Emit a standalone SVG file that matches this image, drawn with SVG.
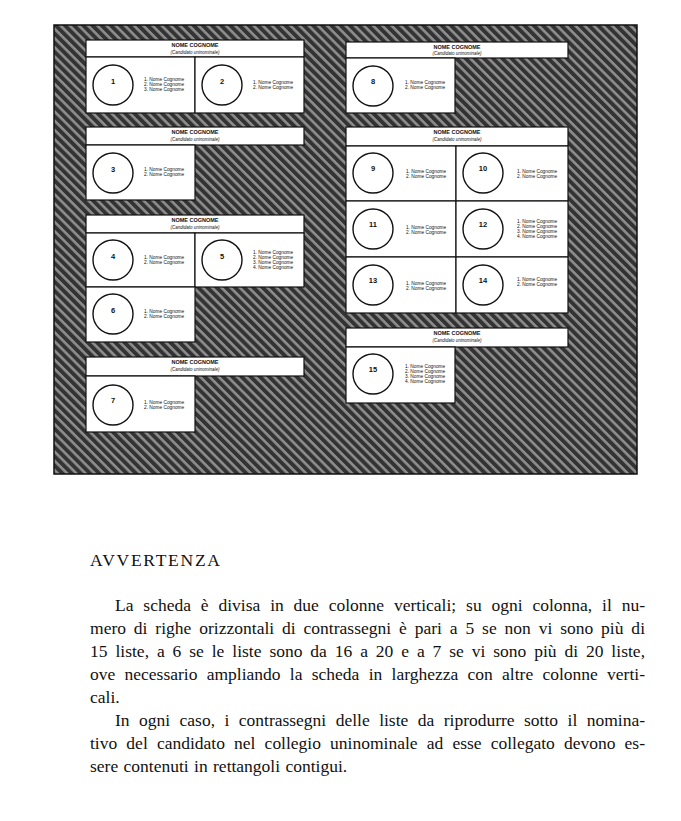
<svg xmlns="http://www.w3.org/2000/svg" width="681" height="821" viewBox="0 0 681 821">
<defs>
<pattern id="hatch" patternUnits="userSpaceOnUse" width="6.5" height="6.5" patternTransform="rotate(45)">
<rect width="6.5" height="6.5" fill="#333333"/>
<rect y="0" width="6.5" height="2.6" fill="#8e8e8e"/>
</pattern>
</defs>
<style>
.box{fill:#ffffff;stroke:#111111;stroke-width:1.2}
.circ{fill:none;stroke:#111111;stroke-width:1.4}
.hd{font-family:"Liberation Sans",Arial,sans-serif;font-size:5.5px;font-weight:bold;text-anchor:middle;fill:#111}
.sub{font-family:"Liberation Sans",Arial,sans-serif;font-size:4.5px;font-style:italic;text-anchor:middle;fill:#111}
.num{font-family:"Liberation Sans",Arial,sans-serif;font-size:7.5px;font-weight:bold;text-anchor:middle;fill:#111}
.nm{font-family:"Liberation Sans",Arial,sans-serif;font-size:4.8px;fill:#111}
.body{font-family:"Liberation Serif","Times New Roman",serif;font-size:17.5px;fill:#111}
</style>
<rect x="54" y="25" width="583" height="449" fill="url(#hatch)" stroke="#111" stroke-width="1.5"/>

<g id="block-1-2">
<rect class="box" x="86" y="40" width="218" height="17"/>
<text class="hd" x="195" y="47">NOME COGNOME</text>
<text class="sub" x="195" y="53.5">(Candidato uninominale)</text>
<rect class="box" x="86" y="57" width="109" height="56"/>
<rect class="box" x="195" y="57" width="109" height="56"/>
<circle class="circ" cx="113" cy="85" r="20"/><text class="num" x="113" y="84">1</text>
<text class="nm" x="144" y="81">1. Nome Cognome</text><text class="nm" x="144" y="86">2. Nome Cognome</text><text class="nm" x="144" y="91">3. Nome Cognome</text>
<circle class="circ" cx="222" cy="85" r="20"/><text class="num" x="222" y="84">2</text>
<text class="nm" x="253" y="84">1. Nome Cognome</text><text class="nm" x="253" y="89">2. Nome Cognome</text>
</g>

<g id="block-3">
<rect class="box" x="86" y="127" width="218" height="18"/>
<text class="hd" x="195" y="134">NOME COGNOME</text>
<text class="sub" x="195" y="140.5">(Candidato uninominale)</text>
<rect class="box" x="86" y="145" width="109" height="55"/>
<circle class="circ" cx="113" cy="173" r="20"/><text class="num" x="113" y="172">3</text>
<text class="nm" x="144" y="171">1. Nome Cognome</text><text class="nm" x="144" y="176">2. Nome Cognome</text>
</g>

<g id="block-4-5-6">
<rect class="box" x="86" y="215" width="218" height="18"/>
<text class="hd" x="195" y="222">NOME COGNOME</text>
<text class="sub" x="195" y="228.5">(Candidato uninominale)</text>
<rect class="box" x="86" y="233" width="109" height="54"/>
<rect class="box" x="195" y="233" width="109" height="54"/>
<rect class="box" x="86" y="287" width="109" height="55"/>
<circle class="circ" cx="113" cy="260" r="20"/><text class="num" x="113" y="259">4</text>
<text class="nm" x="144" y="259">1. Nome Cognome</text><text class="nm" x="144" y="264">2. Nome Cognome</text>
<circle class="circ" cx="222" cy="260" r="20"/><text class="num" x="222" y="259">5</text>
<text class="nm" x="253" y="254">1. Nome Cognome</text><text class="nm" x="253" y="259">2. Nome Cognome</text><text class="nm" x="253" y="264">3. Nome Cognome</text><text class="nm" x="253" y="269">4. Nome Cognome</text>
<circle class="circ" cx="113" cy="314" r="20"/><text class="num" x="113" y="313">6</text>
<text class="nm" x="144" y="313">1. Nome Cognome</text><text class="nm" x="144" y="318">2. Nome Cognome</text>
</g>

<g id="block-7">
<rect class="box" x="86" y="357" width="218" height="19"/>
<text class="hd" x="195" y="364">NOME COGNOME</text>
<text class="sub" x="195" y="370.5">(Candidato uninominale)</text>
<rect class="box" x="86" y="376" width="109" height="56"/>
<circle class="circ" cx="113" cy="405" r="20"/><text class="num" x="113" y="403">7</text>
<text class="nm" x="144" y="404">1. Nome Cognome</text><text class="nm" x="144" y="409">2. Nome Cognome</text>
</g>

<g id="block-8">
<rect class="box" x="346" y="42" width="222" height="16"/>
<text class="hd" x="457" y="48.5">NOME COGNOME</text>
<text class="sub" x="457" y="54.5">(Candidato uninominale)</text>
<rect class="box" x="346" y="58" width="109" height="55"/>
<circle class="circ" cx="373" cy="86" r="20"/><text class="num" x="373" y="84">8</text>
<text class="nm" x="405" y="84">1. Nome Cognome</text><text class="nm" x="405" y="89">2. Nome Cognome</text>
</g>

<g id="block-9-14">
<rect class="box" x="346" y="127" width="222" height="19"/>
<text class="hd" x="457" y="134">NOME COGNOME</text>
<text class="sub" x="457" y="140.5">(Candidato uninominale)</text>
<rect class="box" x="346" y="146" width="110" height="55"/>
<rect class="box" x="456" y="146" width="112" height="55"/>
<rect class="box" x="346" y="201" width="110" height="56"/>
<rect class="box" x="456" y="201" width="112" height="56"/>
<rect class="box" x="346" y="257" width="110" height="56"/>
<rect class="box" x="456" y="257" width="112" height="56"/>
<circle class="circ" cx="373" cy="173" r="20"/><text class="num" x="373" y="171">9</text>
<text class="nm" x="406" y="173">1. Nome Cognome</text><text class="nm" x="406" y="178">2. Nome Cognome</text>
<circle class="circ" cx="483" cy="173" r="20"/><text class="num" x="483" y="171">10</text>
<text class="nm" x="517" y="173">1. Nome Cognome</text><text class="nm" x="517" y="178">2. Nome Cognome</text>
<circle class="circ" cx="373" cy="229" r="20"/><text class="num" x="373" y="227">11</text>
<text class="nm" x="406" y="229">1. Nome Cognome</text><text class="nm" x="406" y="234">2. Nome Cognome</text>
<circle class="circ" cx="483" cy="229" r="20"/><text class="num" x="483" y="227">12</text>
<text class="nm" x="517" y="223">1. Nome Cognome</text><text class="nm" x="517" y="228">2. Nome Cognome</text><text class="nm" x="517" y="233">3. Nome Cognome</text><text class="nm" x="517" y="238">4. Nome Cognome</text>
<circle class="circ" cx="373" cy="285" r="20"/><text class="num" x="373" y="283">13</text>
<text class="nm" x="406" y="285">1. Nome Cognome</text><text class="nm" x="406" y="290">2. Nome Cognome</text>
<circle class="circ" cx="483" cy="285" r="20"/><text class="num" x="483" y="283">14</text>
<text class="nm" x="517" y="281">1. Nome Cognome</text><text class="nm" x="517" y="286">2. Nome Cognome</text>
</g>

<g id="block-15">
<rect class="box" x="346" y="328" width="222" height="19"/>
<text class="hd" x="457" y="335">NOME COGNOME</text>
<text class="sub" x="457" y="341.5">(Candidato uninominale)</text>
<rect class="box" x="346" y="347" width="109" height="56"/>
<circle class="circ" cx="373" cy="374" r="20"/><text class="num" x="373" y="372">15</text>
<text class="nm" x="405" y="368">1. Nome Cognome</text><text class="nm" x="405" y="373">2. Nome Cognome</text><text class="nm" x="405" y="378">3. Nome Cognome</text><text class="nm" x="405" y="383">4. Nome Cognome</text>
</g>

<g id="avvertenza">
<text class="body" x="90" y="566" textLength="130" lengthAdjust="spacing">AVVERTENZA</text>
<text class="body" x="115" y="611" word-spacing="5.5" textLength="530" lengthAdjust="spacing">La scheda è divisa in due colonne verticali; su ogni colonna, il nu-</text>
<text class="body" x="90" y="634" word-spacing="3.5" textLength="555" lengthAdjust="spacing">mero di righe orizzontali di contrassegni è pari a 5 se non vi sono più di</text>
<text class="body" x="90" y="657" word-spacing="3.5" textLength="555" lengthAdjust="spacing">15 liste, a 6 se le liste sono da 16 a 20 e a 7 se vi sono più di 20 liste,</text>
<text class="body" x="90" y="680" word-spacing="4.9" textLength="555" lengthAdjust="spacing">ove necessario ampliando la scheda in larghezza con altre colonne verti-</text>
<text class="body" x="90" y="703">cali.</text>
<text class="body" x="115" y="726" word-spacing="5.1" textLength="530" lengthAdjust="spacing">In ogni caso, i contrassegni delle liste da riprodurre sotto il nomina-</text>
<text class="body" x="90" y="749" word-spacing="4.8" textLength="555" lengthAdjust="spacing">tivo del candidato nel collegio uninominale ad esse collegato devono es-</text>
<text class="body" x="90" y="772" word-spacing="1">sere contenuti in rettangoli contigui.</text>
</g>
</svg>
